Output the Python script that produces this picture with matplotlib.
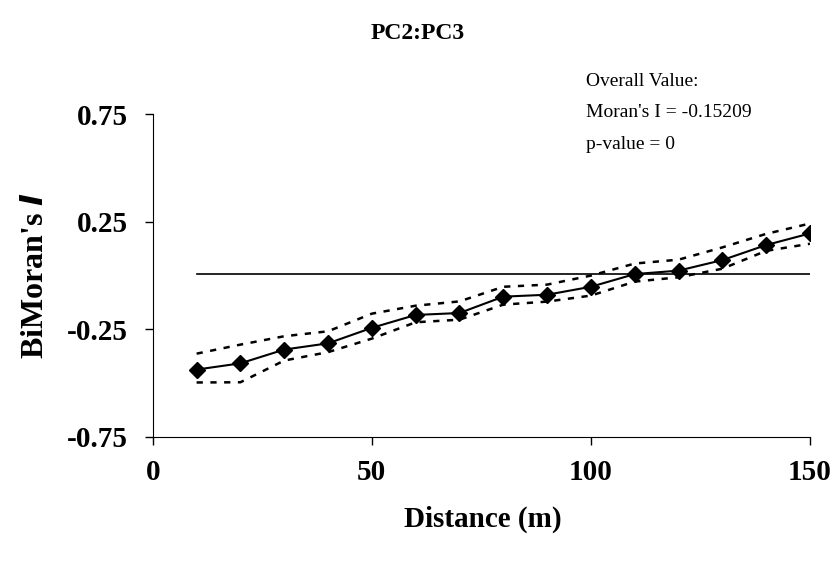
import matplotlib.pyplot as plt

plt.rcParams['font.family'] = ['Liberation Serif', 'DejaVu Serif']

distance = [10, 20, 30, 40, 50, 60, 70, 80, 90, 100, 110, 120, 130, 140, 150]
moran_i = [-0.437, -0.408, -0.344, -0.315, -0.243, -0.183, -0.174, -0.098,
           -0.089, -0.052, 0.007, 0.023, 0.072, 0.142, 0.196]
upper = [-0.363, -0.321, -0.282, -0.259, -0.177, -0.140, -0.120, -0.052,
         -0.042, 0.000, 0.056, 0.074, 0.131, 0.194, 0.242]
lower = [-0.497, -0.496, -0.395, -0.356, -0.293, -0.217, -0.205, -0.135,
         -0.121, -0.093, -0.028, -0.008, 0.032, 0.115, 0.148]
expected = [0.006, 0.006]
expected_x = [10, 150]

fig = plt.figure(figsize=(8.35, 5.63), dpi=100)
ax = fig.add_axes([0.183, 0.224, 0.787, 0.573])

ax.plot(expected_x, expected, color='black', lw=1.2)
ax.plot(distance, upper, color='black', lw=1.8, linestyle=(0, (2.5, 3)))
ax.plot(distance, lower, color='black', lw=1.8, linestyle=(0, (2.5, 3)))
ax.plot(distance, moran_i, color='black', lw=1.5, marker='D', markersize=8)

ax.set_xlim(0, 150)
ax.set_ylim(-0.75, 0.75)
ax.set_xticks([0, 50, 100, 150])
ax.set_yticks([-0.75, -0.25, 0.25, 0.75])
ax.set_yticklabels(['-0.75', '-0.25', '0.25', '0.75'])
ax.spines['top'].set_visible(False)
ax.spines['right'].set_visible(False)
ax.tick_params(axis='both', direction='out', length=6, width=1, labelsize=21)
ax.tick_params(axis='x', pad=10)
ax.tick_params(axis='y', pad=12)
for lab in ax.get_xticklabels() + ax.get_yticklabels():
    lab.set_fontweight('bold')

fig.text(0.50, 0.94, 'PC2:PC3', ha='center', va='center', fontsize=17, fontweight='bold')
fig.text(0.578, 0.077, 'Distance (m)', ha='center', va='center', fontsize=21, fontweight='bold')
fig.text(0.042, 0.51, "BiMoran's $\\mathbfit{I}$", ha='center', va='center', fontsize=23,
         fontweight='bold', rotation=90)

fig.text(0.702, 0.855, 'Overall Value:', fontsize=14, va='center')
fig.text(0.702, 0.800, "Moran's I = -0.15209", fontsize=14, va='center')
fig.text(0.702, 0.743, 'p-value = 0', fontsize=14, va='center')

fig.savefig('out.png', dpi=100)
